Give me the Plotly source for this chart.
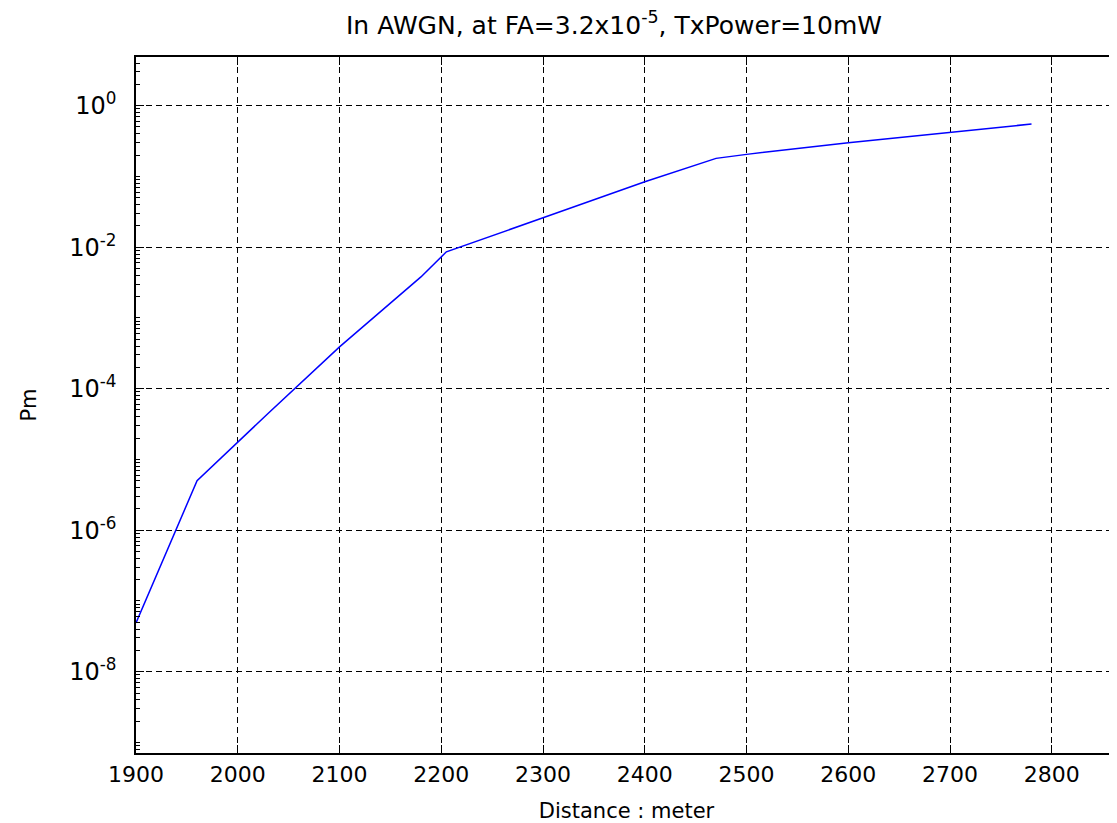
import plotly.graph_objects as go

# distance (m) and Pm
distance = [1900, 1960, 2030, 2100, 2180, 2205, 2300, 2400, 2470, 2500, 2600, 2700, 2780]
pm = [4.9e-8, 5.0e-6, 4.5e-5, 3.9e-4, 3.8e-3, 8.6e-3, 2.6e-2, 8.4e-2, 0.18, 0.205, 0.30, 0.42, 0.55]

x_ticks = [1900, 2000, 2100, 2200, 2300, 2400, 2500, 2600, 2700, 2800]
y_ticks = [1, 1e-2, 1e-4, 1e-6, 1e-8]
y_ticktext = ["10<sup>0</sup>", "10<sup>-2</sup>", "10<sup>-4</sup>", "10<sup>-6</sup>", "10<sup>-8</sup>"]

font = "DejaVu Sans, sans-serif"

fig = go.Figure()
fig.add_trace(go.Scatter(x=distance, y=pm, mode="lines",
                         line=dict(color="#0000ff", width=1.5), showlegend=False))

# page body has an 8px margin, so the figure is a bit smaller than the window
fig.update_layout(
    width=1109, height=815,
    margin=dict(l=128, r=0, t=49, b=70),
    paper_bgcolor="white", plot_bgcolor="white",
    font=dict(family=font, size=22, color="black"),
    title=dict(text="In AWGN, at FA=3.2x10<sup>-5</sup>, TxPower=10mW",
               x=606/1109, xanchor="center", xref="container",
               y=1 - 17/815, yanchor="middle", yref="container",
               font=dict(size=25)),
)

fig.update_xaxes(
    range=[1900, 2864], tickvals=x_ticks, automargin=False,
    showline=True, linecolor="black", linewidth=1.5, mirror="ticks",
    ticks="inside", ticklen=8, tickcolor="black",
    showgrid=True, gridcolor="black", griddash="6px,4px", gridwidth=1,
    zeroline=False, ticklabelstandoff=1,
    title=dict(text="Distance : meter", standoff=19, font=dict(size=21)),
)

fig.update_yaxes(
    type="log", range=[-9.149, 0.688], automargin=False,
    tickvals=y_ticks, ticktext=y_ticktext, tickfont=dict(size=24),
    showline=True, linecolor="black", linewidth=1.5,
    ticks="inside", ticklen=8, tickcolor="black",
    showgrid=True, gridcolor="black", griddash="6px,4px", gridwidth=1,
    zeroline=False, ticklabelstandoff=13,
    minor=dict(ticks="inside", ticklen=4, tickcolor="black", dtick="D1", showgrid=False),
    title=dict(text="Pm", standoff=27, font=dict(size=21)),
)

fig.write_html("out.html")
